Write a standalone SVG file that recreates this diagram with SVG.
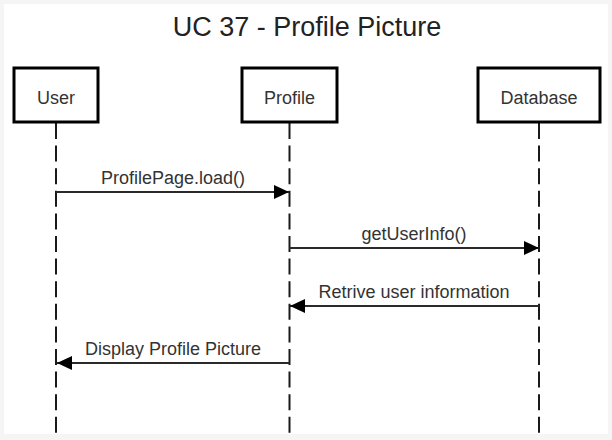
<svg xmlns="http://www.w3.org/2000/svg" width="612" height="440" viewBox="0 0 612 440">
  <style>
    .box { fill: #ffffff; stroke: #000000; stroke-width: 3; }
    .lbl { font-family: "Liberation Sans", Arial, sans-serif; font-size: 18px; fill: #333333; text-anchor: middle; }
    .life { stroke: #1a1a1a; stroke-width: 2; stroke-dasharray: 16 6.6; fill: none; }
    .msg { stroke: #2a2a2a; stroke-width: 2; fill: none; marker-end: url(#arrow); }
  </style>
  <defs>
    <marker id="arrow" markerUnits="userSpaceOnUse" markerWidth="16" markerHeight="16" viewBox="0 0 16 16" refX="15" refY="8" orient="auto">
      <path d="M0,1 L15,8 L0,15 Z" fill="#000000"/>
    </marker>
  </defs>
  <rect x="0" y="0" width="612" height="440" fill="#f5f5f5"/>
  <rect x="4" y="4" width="604" height="430" fill="#ffffff"/>
  <text x="307" y="36" font-family="'Liberation Sans', Arial, sans-serif" font-size="27" fill="#222222" text-anchor="middle">UC 37 - Profile Picture</text>

  <g id="lifelines">
    <line class="life" x1="56" y1="123" x2="56" y2="434"/>
    <line class="life" x1="289.5" y1="123" x2="289.5" y2="434"/>
    <line class="life" x1="539" y1="123" x2="539" y2="434"/>
  </g>

  <g id="node-user">
    <rect class="box" x="14" y="68" width="84" height="54"/>
    <text class="lbl" x="56" y="104">User</text>
  </g>
  <g id="node-profile">
    <rect class="box" x="242" y="68" width="95" height="54"/>
    <text class="lbl" x="289.5" y="104">Profile</text>
  </g>
  <g id="node-database">
    <rect class="box" x="478" y="68" width="122" height="54"/>
    <text class="lbl" x="539" y="104">Database</text>
  </g>

  <g id="connectors">
    <line class="msg" x1="56" y1="192" x2="289" y2="192"/>
    <text class="lbl" x="173" y="184">ProfilePage.load()</text>
    <line class="msg" x1="289.5" y1="248" x2="539" y2="248"/>
    <text class="lbl" x="414" y="240">getUserInfo()</text>
    <line class="msg" x1="539" y1="306" x2="290" y2="306"/>
    <text class="lbl" x="414" y="298">Retrive user information</text>
    <line class="msg" x1="289.5" y1="363" x2="57" y2="363"/>
    <text class="lbl" x="173" y="355">Display Profile Picture</text>
  </g>
</svg>
